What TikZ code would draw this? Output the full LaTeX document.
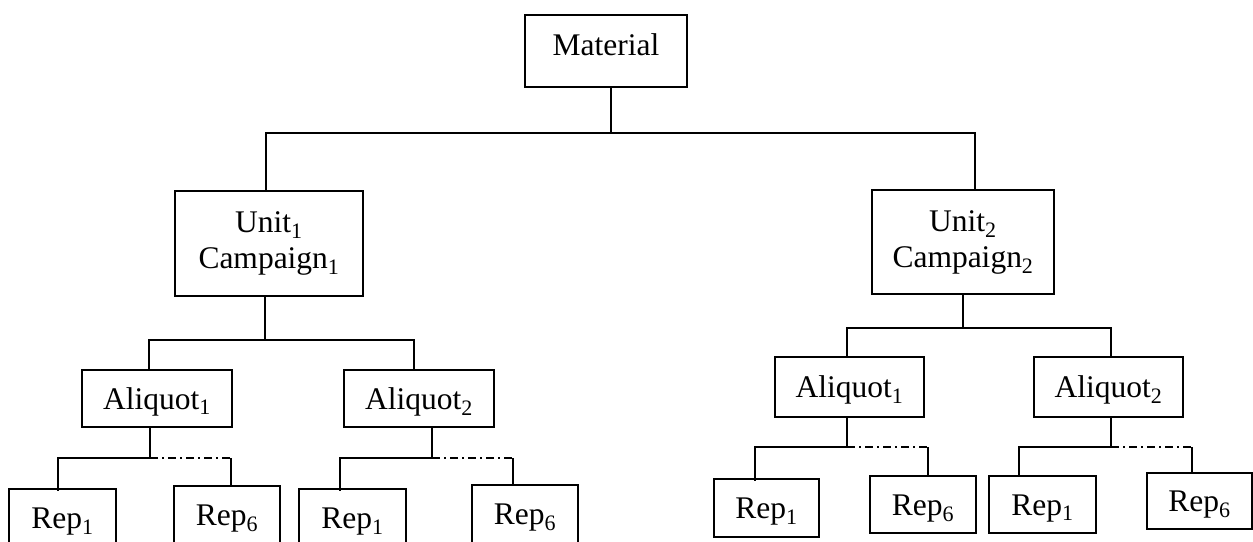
\documentclass[tikz,border=0pt]{standalone}
\usepackage{fontspec}
\setmainfont{Liberation Serif}
\begin{document}
\tikzset{
  box/.style={draw, line width=1.6pt, inner sep=0pt, font=\fontsize{31.5}{36}\selectfont},
  one/.style={text height=21pt, text depth=0pt},
  two/.style={align=center},
  link/.style={line width=1.4pt},
  dd/.style={line width=1.4pt, dash pattern=on 8pt off 4pt on 2pt off 4pt}
}
\begin{tikzpicture}[x=1pt,y=-1pt]
\useasboundingbox (0,0) rectangle (1253,541);
\clip (0,0) rectangle (1253,541);

% nodes
\node[box, one, text depth=12pt, minimum width=162pt, minimum height=72pt] (mat) at (606,51) {Material};
\node[box, two, minimum width=188pt, minimum height=105pt] (u1) at (269,243.5) {Unit\textsubscript{1}\\Campaign\textsubscript{1}};
\node[box, two, minimum width=182pt, minimum height=104pt] (u2) at (963,242) {Unit\textsubscript{2}\\Campaign\textsubscript{2}};

\node[box, one, minimum width=150pt, minimum height=57pt] (a1L) at (157,398.5) {Aliquot\textsubscript{1}};
\node[box, one, minimum width=150pt, minimum height=57pt] (a2L) at (419,398.5) {Aliquot\textsubscript{2}};
\node[box, one, minimum width=149pt, minimum height=60pt] (a1R) at (849.5,387) {Aliquot\textsubscript{1}};
\node[box, one, minimum width=149pt, minimum height=60pt] (a2R) at (1108.5,387) {Aliquot\textsubscript{2}};

\node[box, one, minimum width=107pt, minimum height=58pt] (r1a) at (62.5,518) {Rep\textsubscript{1}};
\node[box, one, minimum width=106pt, minimum height=58pt] (r6a) at (227,515) {Rep\textsubscript{6}};
\node[box, one, minimum width=107pt, minimum height=58pt] (r1b) at (352.5,518) {Rep\textsubscript{1}};
\node[box, one, minimum width=106pt, minimum height=58pt] (r6b) at (525,514) {Rep\textsubscript{6}};
\node[box, one, minimum width=105pt, minimum height=58pt] (r1c) at (766.5,508) {Rep\textsubscript{1}};
\node[box, one, minimum width=106pt, minimum height=57pt] (r6c) at (923,504.5) {Rep\textsubscript{6}};
\node[box, one, minimum width=107pt, minimum height=57pt] (r1d) at (1042.5,504.5) {Rep\textsubscript{1}};
\node[box, one, minimum width=105pt, minimum height=56pt] (r6d) at (1199.5,501) {Rep\textsubscript{6}};

% junction coordinates
\coordinate (t0) at (611,133);
\coordinate (tL) at (266,133);
\coordinate (tR) at (975,133);
\coordinate (m1) at (265,340);
\coordinate (l1) at (149,340);
\coordinate (q1) at (414,340);
\coordinate (m2) at (963,328);
\coordinate (l2) at (847,328);
\coordinate (q2) at (1111,328);

\coordinate (ja) at (150,458);  \coordinate (ja1) at (58,458);   \coordinate (ja6) at (231,458);
\coordinate (jb) at (432,458);  \coordinate (jb1) at (340,458);  \coordinate (jb6) at (513,458);
\coordinate (jc) at (847,447);  \coordinate (jc1) at (755,447);  \coordinate (jc6) at (928,447);
\coordinate (jd) at (1111,447); \coordinate (jd1) at (1019,447); \coordinate (jd6) at (1192,447);

% connectors: top level
\draw[link] (t0 |- mat.south) -- (t0);
\draw[link] (tL |- u1.north) -- (tL) -- (tR) -- (tR |- u2.north);

% unit 1
\draw[link] (m1 |- u1.south) -- (m1);
\draw[link] (l1 |- a1L.north) -- (l1) -- (q1) -- (q1 |- a2L.north);
% unit 2
\draw[link] (m2 |- u2.south) -- (m2);
\draw[link] (l2 |- a1R.north) -- (l2) -- (q2) -- (q2 |- a2R.north);

% aliquot -> reps
\draw[link] (ja |- a1L.south) -- (ja) -- (ja1) -- ([yshift=-3pt]ja1 |- r1a.north);
\draw[dd] (ja) -- (ja6);
\draw[link] (ja6) -- (ja6 |- r6a.north);

\draw[link] (jb |- a2L.south) -- (jb) -- (jb1) -- ([yshift=-3pt]jb1 |- r1b.north);
\draw[dd] (jb) -- (jb6);
\draw[link] (jb6) -- (jb6 |- r6b.north);

\draw[link] (jc |- a1R.south) -- (jc) -- (jc1) -- ([yshift=-3pt]jc1 |- r1c.north);
\draw[dd] (jc) -- (jc6);
\draw[link] (jc6) -- (jc6 |- r6c.north);

\draw[link] (jd |- a2R.south) -- (jd) -- (jd1) -- (jd1 |- r1d.north);
\draw[dd] (jd) -- (jd6);
\draw[link] (jd6) -- (jd6 |- r6d.north);
\end{tikzpicture}
\end{document}
